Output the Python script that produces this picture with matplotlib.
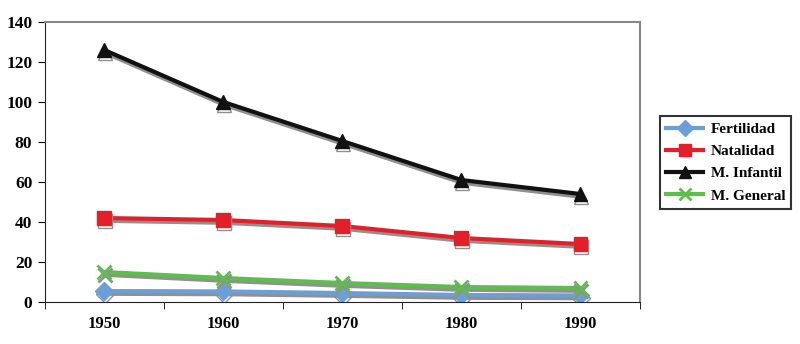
import matplotlib.pyplot as plt
import matplotlib.patheffects as pe
import numpy as np

years = ['1950', '1960', '1970', '1980', '1990']
fertilidad = [5.5, 5.3, 4.5, 3.5, 3.3]
natalidad = [42, 41, 38, 32, 29]
m_infantil = [126, 100, 80.5, 61, 54]
m_general = [15, 12, 9.5, 7.5, 7]

series = [
    ('Fertilidad', fertilidad, '#6a9fd8', 'D', 9),
    ('Natalidad', natalidad, '#e3202a', 's', 10),
    ('M. Infantil', m_infantil, '#111111', '^', 10),
    ('M. General', m_general, '#5bbf4a', 'x', 10),
]

plt.rcParams['font.family'] = ['Liberation Serif', 'DejaVu Serif']
plt.rcParams['font.weight'] = 'bold'

fig = plt.figure(figsize=(8, 3.44), dpi=100)
ax = fig.add_axes([0.056, 0.122, 0.744, 0.814])

x = np.arange(len(years))
shadow = [pe.SimpleLineShadow(offset=(0.5, -2), shadow_color='#909090', alpha=1.0),
          pe.Normal()]
for name, vals, color, marker, ms in series:
    ax.plot(x, vals, color=color, lw=3, marker=marker, ms=ms, mew=2 if marker == 'x' else 1,
            mec=color, mfc=color, label=name, path_effects=shadow)

ax.set_xlim(-0.5, 4.5)
ax.set_ylim(0, 140)
ax.set_yticks(range(0, 141, 20))
ax.set_xticks(x)
ax.set_xticklabels(years)
ax.set_xticks(np.arange(-0.5, 4.6, 1), minor=True)
ax.tick_params(axis='x', which='major', length=0, pad=10, labelsize=12)
ax.tick_params(axis='x', which='minor', length=5, direction='out')
ax.tick_params(axis='y', length=5, direction='out', labelsize=12.5, pad=4)

for side in ('top', 'right'):
    ax.spines[side].set_color('#888888')
    ax.spines[side].set_linewidth(1.5)
for side in ('left', 'bottom'):
    ax.spines[side].set_color('#222222')

leg = ax.legend(loc='center left', bbox_to_anchor=(1.034, 0.498), frameon=True, fancybox=False,
                edgecolor='black', handlelength=2.4, handletextpad=0.5, borderpad=0.4,
                borderaxespad=0, labelspacing=0.55, prop={'weight': 'bold', 'size': 11})
leg.get_frame().set_linewidth(1.5)
for h in leg.get_lines():
    h.set_path_effects([])
    h.set_markersize(8)

fig.savefig('out.png', dpi=100)
